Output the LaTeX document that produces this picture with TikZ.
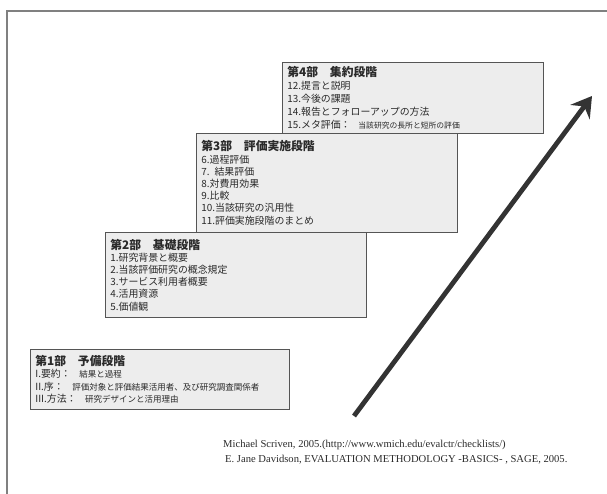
\documentclass[tikz,border=0pt]{standalone}
\usepackage{fontspec}
\setmainfont{Liberation Serif}
\newfontfamily\jp{Noto Sans CJK JP}
\usetikzlibrary{arrows.meta}
\definecolor{boxline}{HTML}{555555}
\definecolor{boxfill}{HTML}{EDEDED}
\definecolor{inkc}{HTML}{2A2A2A}
\definecolor{arrowc}{HTML}{333333}
\definecolor{framec}{HTML}{808080}
\tikzset{
  stagebox/.style={draw=boxline, line width=0.8pt, fill=boxfill, anchor=north west,
    align=left, inner xsep=5pt, inner ysep=0pt, text=inkc,
    font=\jp\fontsize{9.9}{12.2}\selectfont},
  cite/.style={anchor=west, inner sep=0pt, text=inkc, font=\fontsize{10.6}{12}\selectfont},
}
\newcommand{\stitle}[1]{{\fontsize{11.8}{13}\selectfont\bfseries #1}}
\newcommand{\ssmall}[1]{{\fontsize{7.8}{9}\selectfont #1}}
\newcommand{\smid}[1]{{\fontsize{8.5}{9}\selectfont #1}}
\begin{document}
\begin{tikzpicture}[x=1pt,y=-1pt]
\useasboundingbox (0,0) rectangle (607,494);
% outer frame (only left and top edges visible)
\draw[framec, line width=1.2pt] (7,494) -- (7,11) -- (607,11);

\node[stagebox, minimum width=259pt, minimum height=60pt, text width=249pt] (s1) at (30,349)
 {\stitle{第1部　予備段階}\\
  I.要約：\smid{　結果と過程}\\
  II.序：\smid{　評価対象と評価結果活用者、及び研究調査関係者}\\
  III.方法：\smid{　研究デザインと活用理由}};

\node[stagebox, minimum width=261pt, minimum height=85pt, text width=251pt] (s2) at (105,232)
 {\stitle{第2部　基礎段階}\\
  1.研究背景と概要\\
  2.当該評価研究の概念規定\\
  3.サービス利用者概要\\
  4.活用資源\\
  5.価値観};

\node[stagebox, minimum width=261pt, minimum height=99pt, text width=251pt] (s3) at (196,133)
 {\stitle{第3部　評価実施段階}\\
  6.過程評価\\
  7. 結果評価\\
  8.対費用効果\\
  9.比較\\
  10.当該研究の汎用性\\
  11.評価実施段階のまとめ};

\node[stagebox, minimum width=261pt, minimum height=71pt, text width=251pt,
      font=\jp\fontsize{9.9}{13}\selectfont] (s4) at (282,62)
 {\stitle{第4部　集約段階}\\
  12.提言と説明\\
  13.今後の課題\\
  14.報告とフォローアップの方法\\
  15.メタ評価：\ssmall{　当該研究の長所と短所の評価}};

% rising arrow
\coordinate (atail) at (354,416);
\coordinate (ahead) at (592,96);
\draw[arrowc, line width=4.8pt, -{Stealth[length=20pt,width=24pt,inset=7pt]}] (atail) -- (ahead);

% references
\node[cite] (r1) at (223,445) {Michael Scriven, 2005.(http://www.wmich.edu/evalctr/checklists/)};
\node[cite] (r2) at (225,460) {E. Jane Davidson, EVALUATION METHODOLOGY -BASICS- , SAGE, 2005.};
\end{tikzpicture}
\end{document}
